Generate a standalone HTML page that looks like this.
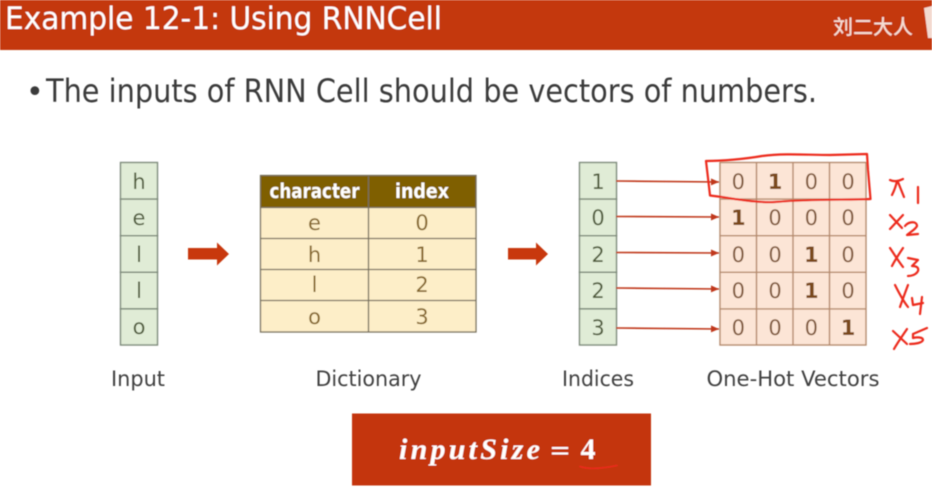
<!DOCTYPE html>
<html>
<head>
<meta charset="utf-8">
<style>
html,body{margin:0;padding:0;background:#fff}
body{width:932px;height:493px;overflow:hidden}
svg{display:block}
text{font-family:"DejaVu Sans","Noto Sans CJK SC",sans-serif}
</style>
</head>
<body>
<svg width="932" height="493" viewBox="0 0 932 493" xmlns="http://www.w3.org/2000/svg">
<defs>
<filter id="b" x="-5%" y="-5%" width="110%" height="110%"><feGaussianBlur stdDeviation="0.45"/></filter>
<marker id="ah" markerWidth="9" markerHeight="7" refX="8" refY="3.5" orient="auto" markerUnits="userSpaceOnUse"><path d="M0 0L8 3.5L0 7Z" fill="#c0391b"/></marker>
</defs>
<rect width="932" height="493" fill="#fff"/>
<g filter="url(#b)">
<!-- Header -->
<rect x="0" y="0" width="932" height="50" fill="#c4380d"/>
<text x="5" y="29" font-size="31" fill="#fff" textLength="437" lengthAdjust="spacingAndGlyphs">Example 12-1: Using RNNCell</text>
<text x="833" y="34" font-size="20" fill="#f6dcd2" textLength="80" font-weight="500" style="font-family:'Noto Sans CJK SC',sans-serif">刘二大人</text>
<path d="M924 8L932 6V38H928Z" fill="#f3d9cf"/>
<!-- Bullet -->
<text x="26" y="102" font-size="30" fill="#3a3a3a">•</text>
<text x="46" y="102" font-size="32" fill="#3a3a3a" textLength="771" lengthAdjust="spacingAndGlyphs">The inputs of RNN Cell should be vectors of numbers.</text>

<!-- Input column -->
<g fill="#e0ecd6" stroke="#7d8a7a" stroke-width="1.4">
<rect x="120.5" y="162.5" width="37" height="36.6"/>
<rect x="120.5" y="199.1" width="37" height="36.6"/>
<rect x="120.5" y="235.7" width="37" height="36.6"/>
<rect x="120.5" y="272.3" width="37" height="36.6"/>
<rect x="120.5" y="308.9" width="37" height="36.1"/>
</g>
<g font-size="21" fill="#4f5c3a" text-anchor="middle">
<text x="139" y="189">h</text>
<text x="139" y="225">e</text>
<text x="139" y="262">l</text>
<text x="139" y="298">l</text>
<text x="139" y="334">o</text>
</g>

<!-- Block arrows -->
<path d="M188 248H217V242.5L229 254L217 265.5V259.5H188Z" fill="#c8380e"/>
<path d="M508 248H536V242.5L548 254L536 265.5V259.5H508Z" fill="#c8380e"/>

<!-- Dictionary -->
<rect x="260.5" y="175.5" width="215" height="32" fill="#7f5f00"/>
<rect x="260.5" y="207" width="215" height="125" fill="#fdeec8"/>
<g stroke="#77705f" stroke-width="1.3" fill="none">
<rect x="260.5" y="175.5" width="215.5" height="156.5"/>
<path d="M368.5 175V332M260 207.5H476M260 238.5H476M260 269.5H476M260 300.5H476"/>
</g>
<g font-size="20" fill="#fff" font-weight="700" text-anchor="middle">
<text x="314.5" y="198" textLength="90" lengthAdjust="spacingAndGlyphs">character</text>
<text x="422" y="198" textLength="54" lengthAdjust="spacingAndGlyphs">index</text>
</g>
<g font-size="21" fill="#86682a" text-anchor="middle">
<text x="314.500" y="230">e</text><text x="422" y="230">0</text>
<text x="314.500" y="262">h</text><text x="422" y="262">1</text>
<text x="314.500" y="292">l</text><text x="422" y="292">2</text>
<text x="314.500" y="324">o</text><text x="422" y="324">3</text>
</g>

<!-- Indices -->
<g fill="#e0ecd6" stroke="#7d8a7a" stroke-width="1.4">
<rect x="579.5" y="162.5" width="37" height="36.6"/>
<rect x="579.5" y="199.1" width="37" height="36.6"/>
<rect x="579.5" y="235.7" width="37" height="36.6"/>
<rect x="579.5" y="272.3" width="37" height="36.6"/>
<rect x="579.5" y="308.9" width="37" height="36.1"/>
</g>
<g font-size="21" fill="#4f5c3a" text-anchor="middle">
<text x="598" y="189">1</text>
<text x="598" y="225">0</text>
<text x="598" y="262">2</text>
<text x="598" y="298">2</text>
<text x="598" y="335">3</text>
</g>

<!-- Thin arrows -->
<g stroke="#c0391b" stroke-width="1.6" marker-end="url(#ah)">
<line x1="616" y1="181" x2="719" y2="182"/>
<line x1="616" y1="216.5" x2="719" y2="217"/>
<line x1="616" y1="252.5" x2="719" y2="253"/>
<line x1="616" y1="288" x2="719" y2="289"/>
<line x1="616" y1="328" x2="719" y2="329"/>
</g>

<!-- Matrix -->
<rect x="720" y="162.5" width="146" height="182.5" fill="#fce5d6"/>
<g stroke="#b58a6c" stroke-width="1.4" fill="none">
<rect x="720" y="162.5" width="146" height="182.5"/>
<path d="M756.5 162.5V345M793 162.5V345M829.5 162.5V345M720 199.1H866M720 235.7H866M720 272.3H866M720 308.9H866"/>
</g>
<g font-size="21" fill="#80593a" text-anchor="middle">
<text x="738.3" y="189">0</text><text x="775" y="189" font-weight="700" fill="#7a4a1c">1</text><text x="811.3" y="189">0</text><text x="848" y="189">0</text>
<text x="738.3" y="225" font-weight="700" fill="#7a4a1c">1</text><text x="775" y="225">0</text><text x="811.3" y="225">0</text><text x="848" y="225">0</text>
<text x="738.3" y="262">0</text><text x="775" y="262">0</text><text x="811.3" y="262" font-weight="700" fill="#7a4a1c">1</text><text x="848" y="262">0</text>
<text x="738.3" y="298">0</text><text x="775" y="298">0</text><text x="811.3" y="298" font-weight="700" fill="#7a4a1c">1</text><text x="848" y="298">0</text>
<text x="738.3" y="335">0</text><text x="775" y="335">0</text><text x="811.3" y="335">0</text><text x="848" y="335" font-weight="700" fill="#7a4a1c">1</text>
</g>

<!-- Captions -->
<g font-size="21" fill="#404040" text-anchor="middle">
<text x="138" y="386" textLength="54" lengthAdjust="spacingAndGlyphs">Input</text>
<text x="368.5" y="386" textLength="106" lengthAdjust="spacingAndGlyphs">Dictionary</text>
<text x="598" y="386" textLength="72" lengthAdjust="spacingAndGlyphs">Indices</text>
<text x="793" y="386" textLength="173" lengthAdjust="spacingAndGlyphs">One-Hot Vectors</text>
</g>

<!-- Input size box -->
<rect x="352" y="413.5" width="299" height="72" fill="#c4360c"/>
<text x="399" y="459" font-size="30" fill="#fff" font-style="italic" font-weight="700" style="font-family:'Liberation Serif',serif" textLength="141" lengthAdjust="spacing">inputSize</text>
<text x="560" y="459" font-size="26" fill="#fff" text-anchor="middle" style="font-family:'DejaVu Serif',serif">=</text>
<text x="588" y="459" font-size="30" fill="#fff" font-weight="700" text-anchor="middle" style="font-family:'Liberation Serif',serif">4</text>

<!-- Red annotations -->
<g fill="none" stroke="#ec2a1c" stroke-width="2.2" stroke-linecap="round" stroke-linejoin="round">
<path d="M706 161C722 161 745 159 762 156C785 153 808 155 830 155L867 154L868 170L870.5 199C845 200 810 199 775 202C760 203 740 200 722 197L710 195.5L708 178L706 161"/>
<path d="M580 466.5C590 470 605 468 617 465.5" stroke-width="1.6"/>
<!-- x1 -->
<path d="M890 180C894 182 899 181 903 179M897 181C896 186 894 191 892 195M898 182C900 187 902 192 904 197"/>
<path d="M918 187L918 203"/>
<!-- x2 -->
<path d="M890 215L902 228M903 215L890 229"/>
<path d="M905 226C909 221 917 221 917 226C916 229 909 233 907 235L918 234"/>
<!-- x3 -->
<path d="M890 248C894 254 899 262 903 267M903 248C899 254 895 260 892 266"/>
<path d="M908 258L918 260L912 266C917 266 919 268 918 271C916 275 911 276 908 276"/>
<!-- x4 -->
<path d="M895 285C899 293 904 302 908 307M908 285C905 293 902 301 900 307"/>
<path d="M912 298L913 305L923 303M922 297L920 314"/>
<!-- x5 -->
<path d="M893 331L907 344M907 329C903 335 898 342 894 349"/>
<path d="M913 334L927 328M913 334L913 338C917 337 923 337 923 340C922 343 915 344 910 344"/>
</g>
</g>
</svg>
</body>
</html>
